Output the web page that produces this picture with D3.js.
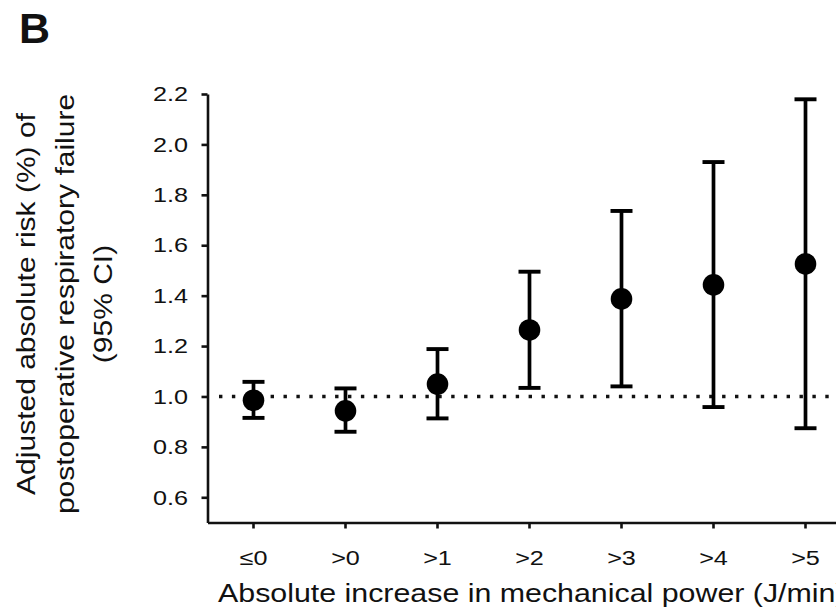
<!DOCTYPE html>
<html>
<head>
<meta charset="utf-8">
<script src="https://cdn.jsdelivr.net/npm/d3@7"></script>
<style>
  html, body { margin: 0; padding: 0; background: #fff; }
  svg { display: block; }
  text { font-family: "Liberation Sans", Arial, sans-serif; fill: #111; }
</style>
</head>
<body>
<svg id="chart" width="836" height="609"></svg>
<script>
const categories = ["≤0", ">0", ">1", ">2", ">3", ">4", ">5"];
const estimate = [0.985, 0.943, 1.049, 1.264, 1.387, 1.443, 1.526];
const lower = [0.915, 0.860, 0.913, 1.034, 1.040, 0.958, 0.874];
const upper = [1.058, 1.032, 1.188, 1.495, 1.736, 1.930, 2.179];
const yTicks = [0.6, 0.8, 1.0, 1.2, 1.4, 1.6, 1.8, 2.0, 2.2];
const referenceValue = 1.0;
const panelLabel = "B";
const xTitle = "Absolute increase in mechanical power (J/min)";
const yTitleLines = ["Adjusted absolute risk (%) of", "postoperative respiratory failure", "(95% CI)"];

const data = categories.map((c, i) => ({ c, est: estimate[i], lo: lower[i], hi: upper[i] }));

const svg = d3.select("#chart");
const SX = 1.2;
const ink = "#111";

const x = d3.scaleBand().domain(categories).range([207.5, 851.5]).paddingInner(0).paddingOuter(0);
const y = d3.scaleLinear().domain([0.5, 2.2]).range([522.5, 94]);

// Reference dotted line
svg.append("line")
  .attr("x1", 219).attr("x2", 836)
  .attr("y1", y(referenceValue)).attr("y2", y(referenceValue))
  .attr("stroke", ink).attr("stroke-width", 3.4)
  .attr("stroke-dasharray", "3.4 9.5");

// Y axis
const yAxis = svg.append("g")
  .attr("transform", "translate(207.5,0)")
  .call(d3.axisLeft(y).tickValues(yTicks).tickSize(6).tickSizeOuter(0).tickFormat(d3.format(".1f")));
yAxis.select(".domain").attr("stroke", ink).attr("stroke-width", 2.6);
yAxis.selectAll(".tick line").attr("stroke", ink).attr("stroke-width", 2.6);
yAxis.selectAll(".tick text")
  .attr("font-size", 21).attr("fill", ink)
  .attr("x", -19.5 / SX)
  .attr("transform", `scale(${SX},1)`);

// X axis
const xAxis = svg.append("g")
  .attr("transform", "translate(0,522.5)")
  .call(d3.axisBottom(x).tickSize(6).tickSizeOuter(0));
xAxis.select(".domain").attr("stroke", ink).attr("stroke-width", 2.6);
xAxis.selectAll(".tick line").attr("stroke", ink).attr("stroke-width", 2.6);
xAxis.selectAll(".tick text")
  .attr("font-size", 21).attr("fill", ink)
  .attr("y", 42.5).attr("dy", null)
  .attr("transform", `scale(${SX},1)`);

// Error bars
const cx = d => x(d.c) + x.bandwidth() / 2;
const g = svg.append("g");
g.selectAll("line.stem").data(data).join("line").attr("class", "stem")
  .attr("x1", cx).attr("x2", cx)
  .attr("y1", d => y(d.lo)).attr("y2", d => y(d.hi))
  .attr("stroke", "#000").attr("stroke-width", 3.7);
g.selectAll("line.capHi").data(data).join("line").attr("class", "capHi")
  .attr("x1", d => cx(d) - 11).attr("x2", d => cx(d) + 11)
  .attr("y1", d => y(d.hi)).attr("y2", d => y(d.hi))
  .attr("stroke", "#000").attr("stroke-width", 3.9);
g.selectAll("line.capLo").data(data).join("line").attr("class", "capLo")
  .attr("x1", d => cx(d) - 11).attr("x2", d => cx(d) + 11)
  .attr("y1", d => y(d.lo)).attr("y2", d => y(d.lo))
  .attr("stroke", "#000").attr("stroke-width", 3.9);
g.selectAll("circle").data(data).join("circle")
  .attr("cx", cx).attr("cy", d => y(d.est)).attr("r", 10.8)
  .attr("fill", "#000");

// X title (cut at the right edge as in the reference)
svg.append("text")
  .attr("transform", `translate(218,602) scale(1.215,1)`)
  .attr("font-size", 25).attr("fill", ink)
  .text(xTitle);

// Y title
const yBaselines = [35, 74, 112];
yTitleLines.forEach((t, i) => {
  svg.append("text")
    .attr("transform", `translate(${yBaselines[i]},304) rotate(-90) scale(${SX},1)`)
    .attr("text-anchor", "middle")
    .attr("font-size", 25).attr("fill", ink)
    .text(t);
});

// Panel label
svg.append("text")
  .attr("x", 19).attr("y", 43)
  .attr("font-size", 43).attr("font-weight", "bold").attr("fill", "#000")
  .text(panelLabel);
</script>
</body>
</html>
